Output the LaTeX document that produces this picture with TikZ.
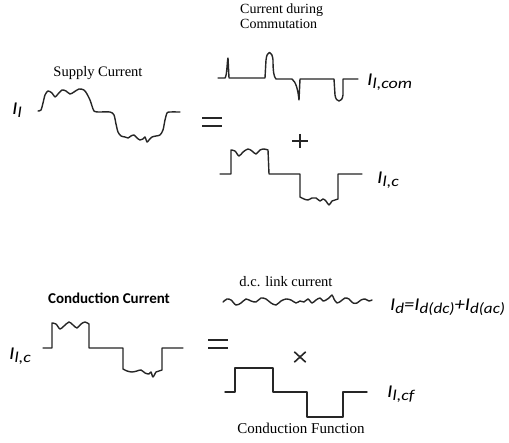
\documentclass[tikz,border=0pt]{standalone}
\usepackage{fontspec}
\setmainfont{Liberation Serif}
\newfontfamily\carl{Carlito}
\newcommand{\Ism}{\fontsize{18}{18}\selectfont}
\newcommand{\Isub}[1]{\raisebox{-3pt}{\fontsize{15}{15}\selectfont #1}}
\newcommand{\Ilab}[1]{\scalebox{1.2}[1]{\carl\itshape\Ism I\Isub{#1}}}
\begin{document}
\begin{tikzpicture}[x=1pt,y=-1pt,
  wave/.style={line width=1.4pt, line join=round, line cap=round, black!85},
  serif/.style={inner sep=0pt, font=\fontsize{14.5}{15}\selectfont},
  lab/.style={inner sep=0pt, anchor=west},
  op/.style={inner sep=0pt, minimum width=19pt, minimum height=8pt},
  bar/.style={line width=1.6pt, black!85}]
\path[use as bounding box, fill=white] (0,0) rectangle (509,443);

% ---------- Top equation ----------
\node[serif] (supplyt) at (98,73) {Supply Current};
\node[lab] (il) at (12,110) {\Ilab{l}};
\draw[wave] plot[smooth, tension=0.45] coordinates {
 (38,111) (41,110) (43,103) (45,95) (48,91) (52,93) (55,97) (58,94) (62,90) (66,91)
 (70,94) (74,92) (79,89) (84,90) (87,94) (90,100) (92,106) (94,111) (98,112) (110,112)
 (114,115) (116,124) (118,132) (121,136) (125,137) (128,138) (131,136) (134,135)
 (137,138) (140,140) (143,139) (145,137) (147,142) (149,140) (152,137) (156,136)
 (160,135) (163,130) (165,120) (167,113) (170,112) (180,112)};

\node[serif, align=left, anchor=north west, font=\fontsize{14}{15}\selectfont] (commt) at (240,4) {Current during\\Commutation};
\draw[wave] (218,78) -- (225,78) .. controls (227,76) and (227,62) .. (228,58) -- (229,78)
  -- (265,78) -- (266,60) .. controls (267,50) and (272,50) .. (273,60)
  .. controls (273,72) and (274,77) .. (276,79) -- (292,79)
  .. controls (296,82) and (298,90) .. (299,100) -- (300,79) -- (334,79)
  -- (335,95) .. controls (336,103) and (342,103) .. (343,95) -- (343,79) -- (358,79);
\node[lab] (ilcom) at (367,82) {\Ilab{l,com}};

\node[op] (eq1) at (212,122) {};
\draw[bar] (eq1.north west) -- (eq1.north east) (eq1.south west) -- (eq1.south east);
\node[inner sep=0pt, minimum width=15pt, minimum height=14pt] (plus) at (300,141) {};
\draw[line width=1.5pt, black!85] (plus.north) -- (plus.south) (plus.west) -- (plus.east);

\draw[wave] (220,174) -- (231,174) -- plot[smooth, tension=0.5] coordinates {
 (231,150) (235,151) (239,156) (243,152) (248,149) (252,151) (256,154) (260,150) (264,149) (268,150)}
 -- (269,174) -- (300,174) -- plot[smooth, tension=0.5] coordinates {
 (300,197) (304,199) (308,200) (312,198) (316,198) (320,201) (323,199) (326,201) (329,205) (332,201) (335,200) (338,199)}
 -- (338,174) -- (362,174);
\node[lab] (ilc) at (377,180) {\Ilab{l,c}};

% ---------- Bottom equation ----------
\node[inner sep=0pt, font=\carl\bfseries\fontsize{15}{15}\selectfont] (condt) at (109,298) {Conduction Current};
\node[lab] (ilc2) at (9,356) {\Ilab{l,c}};
\draw[wave] (43,348) -- (52,348) -- plot[smooth, tension=0.5] coordinates {
 (52,323) (56,324) (60,329) (64,326) (69,322) (73,325) (77,328) (81,324) (85,322) (89,324)}
 -- (89,348) -- (123,348) -- plot[smooth, tension=0.5] coordinates {
 (123,369) (127,371) (132,372) (137,371) (141,370) (145,373) (149,374) (151,372) (153,377) (156,372) (159,371) (162,370)}
 -- (162,348) -- (183,348);

\node[serif] (dct) at (286,282) {d.c. link current};
\draw[wave] plot[smooth, tension=0.5] coordinates {
 (223,302) (227,299) (231,300) (236,305) (241,303) (246,299) (251,301) (256,302) (261,298)
 (266,299) (271,303) (276,305) (281,301) (286,299) (291,300) (296,303) (300,301) (304,302)
 (308,299) (312,303) (316,300) (320,298) (323,301) (326,300) (329,298) (332,295) (334,299)
 (337,303) (341,301) (345,298) (349,299) (353,303) (357,303) (361,300) (365,299) (369,301) (372,300)};
\node[lab] (id) at (390,307) {\scalebox{1.14}[1]{\carl\itshape\Ism I\Isub{d}=I\Isub{d(dc)}+I\Isub{d(ac)}}};

\node[op] (eq2) at (218,344) {};
\draw[bar] (eq2.north west) -- (eq2.north east) (eq2.south west) -- (eq2.south east);
\node[inner sep=0pt, minimum width=11pt, minimum height=10pt] (times) at (300,357) {};
\draw[line width=1.6pt, black!85] (times.north west) -- (times.south east) (times.north east) -- (times.south west);

\draw[wave] (225,392) -- (235,392) -- (235,368) -- (273,368) -- (273,392) -- (307,392)
  -- (307,417) -- (343,417) -- (343,392) -- (367,392);
\node[lab] (ilcf) at (387,394) {\Ilab{l,cf}};
\node[serif, font=\fontsize{15}{15}\selectfont] (cft) at (301,428) {Conduction Function};
\end{tikzpicture}
\end{document}
